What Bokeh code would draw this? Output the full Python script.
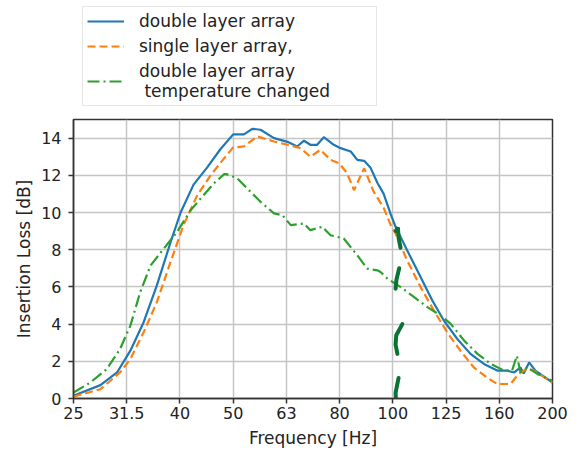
from bokeh.plotting import figure
from bokeh.layouts import column
from bokeh.models import Range1d, FixedTicker, CustomJSTickFormatter, Legend, LegendItem
from bokeh.embed import file_html
from bokeh.resources import INLINE

# ---- data (frequency in Hz, insertion loss in dB) ----
tick_labels = ["25", "31.5", "40", "50", "63", "80", "100", "125", "160", "200"]
y_ticks = [0, 2, 4, 6, 8, 10, 12, 14]
series_labels = ["double layer array", "single layer array,",
                 "double layer array\n temperature changed"]

double_f = [25.0, 28.1, 30.2, 32.0, 33.9, 35.9, 38.1, 39.8, 42.1, 44.6, 47.3, 50.0, 52.4,
            54.3, 56.3, 59.7, 63.3, 66.0, 68.0, 69.9, 72.0, 74.1, 77.4, 79.7, 83.3, 85.7,
            88.3, 90.8, 93.5, 96.1, 99.1, 101.2, 106.4, 112.8, 118.7, 124.8, 132.3, 140.1,
            148.5, 157.3, 164.4, 169.4, 174.1, 176.5, 180.7, 185.7, 200.0]
double_db = [0.15, 0.72, 1.4, 2.57, 4.1, 6.08, 8.4, 10.0, 11.5, 12.4, 13.4, 14.2, 14.2,
             14.5, 14.45, 14.0, 13.8, 13.55, 13.86, 13.64, 13.64, 14.05, 13.64, 13.46, 13.28, 12.83,
             12.78, 12.4, 11.6, 11.0, 9.9, 9.23, 7.97, 6.53, 5.27, 4.19, 3.2, 2.4,
             1.86, 1.5, 1.5, 1.4, 1.67, 1.35, 1.94, 1.5, 0.86]

single_f = [25.0, 28.1, 30.6, 32.0, 33.9, 35.9, 38.1, 40.3, 42.8, 45.4, 48.1, 50.0, 52.4,
            55.5, 59.7, 63.3, 67.0, 69.9, 73.0, 76.3, 79.2, 82.0, 84.5, 88.3, 92.0, 96.1,
            99.1, 101.2, 106.4, 112.8, 119.5, 126.6, 134.1, 142.1, 150.5, 157.3, 166.6,
            170.5, 174.1, 179.4, 184.5, 200.0]
single_db = [0.1, 0.5, 1.4, 2.12, 3.56, 5.18, 7.34, 9.32, 10.94, 12.02, 12.92, 13.5, 13.55,
             14.09, 13.82, 13.64, 13.46, 13.0, 13.37, 12.83, 12.65, 12.11, 11.2, 12.38, 11.12, 10.25,
             9.32, 8.87, 7.43, 5.99, 4.73, 3.56, 2.57, 1.67, 1.13, 0.78, 0.78,
             1.13, 1.4, 1.59, 1.5, 0.86]

temp_f = [25.0, 26.9, 28.9, 30.6, 32.0, 33.4, 34.95, 37.0, 39.2, 41.6, 44.0, 46.0, 48.1,
          48.6, 50.9, 53.1, 56.3, 59.7, 61.9, 64.2, 68.0, 69.9, 73.6, 76.3, 80.8, 85.7,
          89.5, 93.5, 94.8, 97.7, 103.5, 109.7, 116.2, 123.1, 128.6, 136.3, 144.4, 153.0,
          162.1, 167.8, 171.3, 174.1, 179.4, 187.5, 200.0]
temp_db = [0.32, 0.86, 1.59, 2.66, 3.92, 5.72, 7.16, 8.06, 8.96, 10.13, 10.94, 11.57, 12.06,
           12.06, 11.84, 11.3, 10.58, 9.95, 9.86, 9.32, 9.41, 9.05, 9.23, 8.78, 8.6, 7.7,
           6.98, 6.89, 6.8, 6.44, 5.99, 5.45, 4.91, 4.46, 4.01, 3.11, 2.4, 1.86,
           1.5, 1.5, 2.3, 1.4, 1.67, 1.31, 0.95]

# hand-drawn dashed annotation near 100 Hz
annot_f = [[101.3, 102.2, 102.6, 103.4],
           [102.8, 101.6, 101.2],
           [104.2, 101.5, 101.2, 102.0],
           [102.5, 101.2, 101.5, 102.5]]
annot_db = [[9.0, 9.2, 8.6, 8.1],
            [7.0, 6.4, 5.9],
            [4.0, 3.4, 2.9, 2.4],
            [1.1, 0.3, -0.5, -1.2]]

FONT = "DejaVu Sans"
TXT = "#222222"
W = 577
LEG_H = 108

styles = [dict(line_color="#1f77b4", line_width=2.2),
          dict(line_color="#ff7f0e", line_width=2.2, line_dash="8 4"),
          dict(line_color="#2ca02c", line_width=2.2, line_dash="12 4 2 4")]
series = [(double_f, double_db), (single_f, single_db), (temp_f, temp_db)]

# ---------- main plot ----------
p = figure(width=W, height=453 - LEG_H, x_axis_type="log",
           x_range=Range1d(25, 200), y_range=Range1d(0, 15),
           output_backend="svg", toolbar_location=None,
           min_border_left=73, min_border_right=25,
           min_border_top=119 - LEG_H, min_border_bottom=55)

p.background_fill_color = "white"
p.border_fill_color = "white"
p.outline_line_color = "#333333"
p.outline_line_width = 1.5

tick_pos = [25 * 2 ** (k / 3) for k in range(len(tick_labels))]
p.xaxis.ticker = FixedTicker(ticks=tick_pos)
p.xaxis.formatter = CustomJSTickFormatter(
    args=dict(labels=tick_labels),
    code="return labels[Math.round(3*Math.log2(tick/25))];")
p.yaxis.ticker = FixedTicker(ticks=y_ticks)

for ax in (p.xaxis[0], p.yaxis[0]):
    ax.axis_line_color = "#333333"
    ax.axis_line_width = 1.5
    ax.major_tick_line_color = "#333333"
    ax.major_tick_line_width = 1.5
    ax.major_tick_out = 5
    ax.major_tick_in = 0
    ax.minor_tick_line_color = None
    ax.major_label_text_font = FONT
    ax.major_label_text_font_size = "16px"
    ax.major_label_text_color = TXT
    ax.axis_label_text_font = FONT
    ax.axis_label_text_font_size = "17px"
    ax.axis_label_text_font_style = "normal"
    ax.axis_label_text_color = TXT

p.xaxis.axis_label = "Frequency [Hz]"
p.yaxis.axis_label = "Insertion Loss [dB]"
p.xaxis.major_label_standoff = 3
p.xaxis.axis_label_standoff = 6
p.yaxis.major_label_standoff = 7
p.yaxis.axis_label_standoff = 4

p.grid.grid_line_color = "#c4c4c4"
p.grid.grid_line_width = 1.5

for (fx, fy), st in zip(series, styles):
    p.line(fx, fy, **st)

p.multi_line(annot_f, annot_db, line_color="#0a7235", line_width=4, line_cap="round")

# ---------- legend strip above the plot ----------
lg = figure(width=W, height=LEG_H, x_axis_type="log",
            x_range=Range1d(25, 200), y_range=Range1d(100, 101),
            output_backend="svg", toolbar_location=None,
            x_axis_location=None, y_axis_location=None, min_border=0)
lg.outline_line_color = None
lg.grid.grid_line_color = None
lg.background_fill_color = "white"
lg.border_fill_color = "white"

items = []
for (fx, fy), st, lab in zip(series, styles, series_labels):
    r = lg.line(fx, fy, **st)
    items.append(LegendItem(label=lab, renderers=[r]))

legend = Legend(items=items, location=(9, 2))
legend.label_text_font = FONT
legend.label_text_font_size = "17px"
legend.label_text_color = TXT
legend.glyph_width = 37
legend.glyph_height = 20
legend.label_height = 20
legend.label_width = 233
legend.label_standoff = 15
legend.spacing = 5
legend.padding = 4
legend.margin = 0
legend.border_line_color = "#cccccc"
legend.border_line_width = 1
legend.background_fill_alpha = 1.0
lg.add_layout(legend)

page = column(lg, p, spacing=0)
open("out.html", "w").write(file_html(page, INLINE))
